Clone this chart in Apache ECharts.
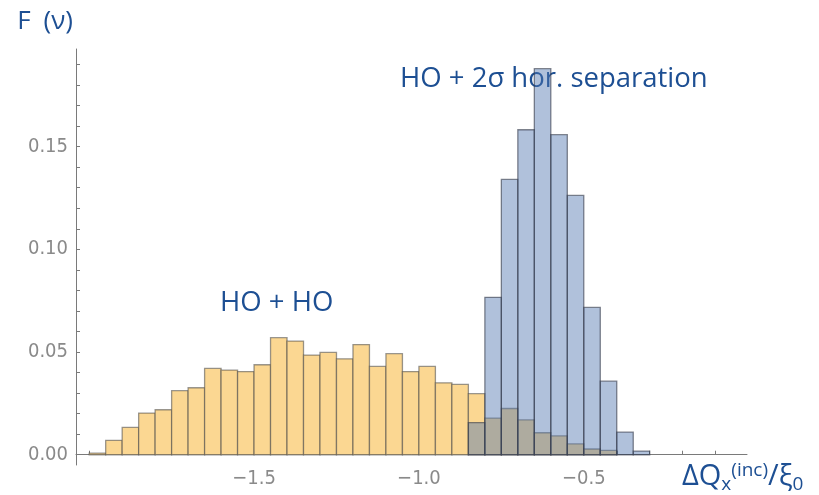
<!DOCTYPE html>
<html>
<head>
<meta charset="utf-8">
<script src="https://cdn.jsdelivr.net/npm/echarts@6/dist/echarts.min.js"></script>
<style>
  html, body { margin: 0; padding: 0; background: #fff; }
  #chart { width: 819px; height: 495px; }
</style>
</head>
<body>
<div id="chart"></div>
<script>
// Histogram bins (width 0.05) of the incoherent tune shift, normalised per bin
const hoHoBinStarts = [-2.00, -1.95, -1.90, -1.85, -1.80, -1.75, -1.70, -1.65, -1.60, -1.55,
                       -1.50, -1.45, -1.40, -1.35, -1.30, -1.25, -1.20, -1.15, -1.10, -1.05,
                       -1.00, -0.95, -0.90, -0.85, -0.80, -0.75, -0.70, -0.65, -0.60, -0.55,
                       -0.50, -0.45];
const hoHoValues = [0.0008, 0.0070, 0.0133, 0.0203, 0.0219, 0.0312, 0.0326, 0.0420, 0.0412, 0.0405,
                    0.0438, 0.0570, 0.0553, 0.0485, 0.0498, 0.0467, 0.0536, 0.0430, 0.0492, 0.0405,
                    0.0430, 0.0350, 0.0342, 0.0297, 0.0178, 0.0225, 0.0170, 0.0107, 0.0092, 0.0053,
                    0.0028, 0.0021];

const hoSepBinStarts = [-0.85, -0.80, -0.75, -0.70, -0.65, -0.60, -0.55, -0.50, -0.45, -0.40, -0.35];
const hoSepValues = [0.0156, 0.0766, 0.1340, 0.1582, 0.1879, 0.1558, 0.1262, 0.0717, 0.0358, 0.0110, 0.0018];

const binWidth = 0.05;

const xLabelValues = [-1.5, -1.0, -0.5];
const xTickValues = [-2.0, -1.9, -1.8, -1.7, -1.6, -1.5, -1.4, -1.3, -1.2, -1.1, -1.0,
                     -0.9, -0.8, -0.7, -0.6, -0.5, -0.4, -0.3, -0.2, -0.1];
const yLabelValues = [0, 0.05, 0.10, 0.15];
const yTickValues = [0, 0.01, 0.02, 0.03, 0.04, 0.05, 0.06, 0.07, 0.08, 0.09, 0.10,
                     0.11, 0.12, 0.13, 0.14, 0.15, 0.16, 0.17, 0.18, 0.19];

const textBlue = '#1d4f93';
const tickGrey = '#8a8a8a';
const axisGrey = '#7a7a7a';
const labelFont = "'DejaVu Sans Condensed', 'DejaVu Sans', sans-serif";
const noteFont = "'Open Sans', Lato, sans-serif";

function toBars(starts, values) {
  return starts.map((s, i) => [s, s + binWidth, values[i]]);
}

function barRenderer(fill, stroke) {
  return function (params, api) {
    const top = api.coord([api.value(0), api.value(2)]);
    const base = api.coord([api.value(1), 0]);
    return {
      type: 'rect',
      shape: { x: top[0], y: top[1], width: base[0] - top[0], height: base[1] - top[1] },
      style: { fill: fill, stroke: stroke, lineWidth: 1.3 }
    };
  };
}

const chart = echarts.init(document.getElementById('chart'), null, { renderer: 'canvas' });

chart.setOption({
  animation: false,
  backgroundColor: '#ffffff',
  grid: { left: 76, right: 72, top: 49, bottom: 30, containLabel: false },
  xAxis: {
    type: 'value',
    min: -2.04,
    max: -0.005,
    name: '{m|ΔQ}{sub|x}{sup|(inc)}{m|/ξ}{sub|0}',
    nameLocation: 'end',
    nameGap: -65,
    nameTextStyle: {
      align: 'left',
      verticalAlign: 'top',
      padding: [6, 0, 0, 0],
      rich: {
        m: { fontFamily: noteFont, fontSize: 29, color: textBlue, lineHeight: 33, verticalAlign: 'middle' },
        sub: { fontFamily: noteFont, fontSize: 19, color: textBlue, lineHeight: 33, verticalAlign: 'bottom' },
        sup: { fontFamily: noteFont, fontSize: 19, color: textBlue, lineHeight: 33, verticalAlign: 'top' }
      }
    },
    axisLine: { onZero: true, lineStyle: { color: axisGrey, width: 1 } },
    axisTick: { show: true, inside: true, length: 4, customValues: xTickValues, lineStyle: { color: axisGrey } },
    minorTick: { show: false },
    splitLine: { show: false },
    axisLabel: {
      customValues: xLabelValues,
      margin: 4,
      color: tickGrey,
      fontFamily: labelFont,
      fontSize: 20,
      formatter: v => v.toFixed(1).replace('-', '\u2212')
    }
  },
  yAxis: {
    type: 'value',
    min: -0.005,
    max: 0.1975,
    name: 'F\u2002(ν)',
    nameLocation: 'end',
    nameGap: 27,
    nameTextStyle: {
      align: 'right',
      verticalAlign: 'middle',
      padding: [0, 3, 0, 0],
      fontFamily: noteFont,
      fontSize: 26,
      color: textBlue
    },
    axisLine: { show: true, onZero: false, lineStyle: { color: axisGrey, width: 1 } },
    axisTick: { show: true, inside: true, length: 4, customValues: yTickValues, lineStyle: { color: axisGrey } },
    splitLine: { show: false },
    axisLabel: {
      customValues: yLabelValues,
      margin: 8,
      color: tickGrey,
      fontFamily: labelFont,
      fontSize: 20,
      formatter: v => v.toFixed(2)
    }
  },
  series: [
    {
      name: 'HO + HO',
      type: 'custom',
      renderItem: barRenderer('#fbd792', 'rgba(70,70,70,0.55)'),
      data: toBars(hoHoBinStarts, hoHoValues),
      z: 2
    },
    {
      name: 'HO + 2σ hor. separation',
      type: 'custom',
      renderItem: barRenderer('rgba(80,117,175,0.45)', 'rgba(50,55,70,0.6)'),
      data: toBars(hoSepBinStarts, hoSepValues),
      z: 3
    }
  ],
  graphic: [
    {
      type: 'text',
      left: 220, top: 289,
      style: { text: 'HO + HO', font: "27.5px 'Open Sans', Lato, sans-serif", fill: textBlue }
    },
    {
      type: 'text',
      left: 400, top: 65,
      style: { text: 'HO + 2σ hor. separation', font: "27.5px 'Open Sans', Lato, sans-serif", fill: textBlue }
    }
  ]
});
</script>
</body>
</html>
